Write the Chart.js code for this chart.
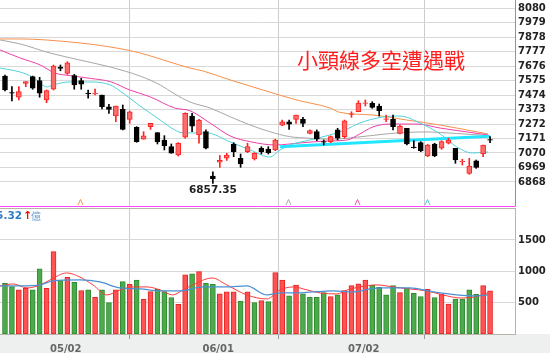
<!DOCTYPE html>
<html lang="zh-Hant">
<head>
<meta charset="UTF-8">
<title>小頸線多空遭遇戰</title>
<script src="https://cdn.jsdelivr.net/npm/chart.js"></script>
<style>
  html, body { margin: 0; padding: 0; background: #fff; }
  #wrap { position: relative; width: 550px; height: 353px; overflow: hidden; }
  #price { position: absolute; left: 0; top: 0; }
  #vol { position: absolute; left: 0; top: 207px; }
</style>
</head>
<body>
<div id="wrap">
  <canvas id="price" width="550" height="207"></canvas>
  <canvas id="vol" width="550" height="146"></canvas>
</div>
<script>
// ---- data ----
const dates = ['05/02', '06/01', '07/02'];
const dateIdx = [7, 29, 50];
const priceTicks = [6868, 6969, 7070, 7171, 7272, 7373, 7474, 7575, 7676, 7777, 7878, 7979, 8080];
const volTicks = [500, 1000, 1500];

const opens = [7607, 7492, 7459, 7556, 7603, 7575, 7440, 7515, 7670, 7626,
  7610, 7575, 7489, 7484, 7475, 7393, 7328, 7375, 7305, 7249,
  7166, 7254, 7212, 7161, 7114, 7056, 7180, 7328, 7196, 7219,
  6909, 7006, 7033, 7133, 7033, 7079, 7028, 7103, 7098, 7091,
  7265, 7288, 7305, 7305, 7207, 7219, 7149, 7149, 7231, 7184,
  7340, 7358, 7416, 7417, 7398, 7305, 7305, 7207, 7242, 7112,
  7142, 7049, 7133, 7103, 7138, 7103, 7007, 6928, 7016, 7063, 7163];
const highs = [7614, 7533, 7533, 7568, 7607, 7598, 7510, 7684, 7684, 7707,
  7619, 7591, 7510, 7517, 7475, 7410, 7398, 7405, 7363, 7254,
  7219, 7277, 7212, 7191, 7133, 7142, 7351, 7347, 7305, 7231,
  6939, 7053, 7068, 7142, 7063, 7138, 7072, 7114, 7114, 7166,
  7300, 7300, 7335, 7319, 7231, 7231, 7161, 7189, 7242, 7300,
  7358, 7435, 7440, 7428, 7412, 7335, 7335, 7265, 7242, 7156,
  7149, 7131, 7138, 7156, 7173, 7103, 7026, 7033, 7021, 7126, 7184];
const lows = [7503, 7433, 7440, 7533, 7515, 7459, 7421, 7510, 7644, 7619,
  7515, 7515, 7452, 7475, 7377, 7347, 7288, 7231, 7277, 7145,
  7166, 7235, 7133, 7091, 7068, 7049, 7173, 7219, 7138, 7098,
  6857.35, 6970, 7018, 7044, 6970, 7072, 7021, 7063, 7063, 7086,
  7261, 7235, 7277, 7254, 7203, 7156, 7126, 7142, 7161, 7173,
  7319, 7358, 7398, 7382, 7328, 7288, 7231, 7203, 7126, 7103,
  7079, 7044, 7044, 7096, 7133, 6998, 6986, 6921, 6963, 7044, 7142];
const closes = [7510, 7487, 7498, 7568, 7522, 7487, 7505, 7677, 7661, 7700,
  7545, 7550, 7484, 7489, 7393, 7375, 7398, 7235, 7358, 7149,
  7189, 7277, 7149, 7121, 7068, 7138, 7347, 7258, 7300, 7103,
  6891, 7018, 7056, 7079, 6993, 7114, 7068, 7079, 7072, 7161,
  7288, 7272, 7335, 7277, 7226, 7166, 7145, 7184, 7173, 7295,
  7344, 7418, 7421, 7389, 7365, 7309, 7254, 7258, 7133, 7108,
  7086, 7126, 7049, 7149, 7161, 7021, 7011, 6979, 6970, 7126, 7159];
const prevClose = 7612;
const volumes = [810, 756, 703, 730, 703, 1038, 730, 1315, 852, 905,
  825, 692, 703, 586, 703, 500, 703, 836, 793, 862,
  554, 676, 714, 676, 580, 474, 942, 958, 995, 810,
  793, 639, 671, 671, 527, 671, 500, 532, 516, 979,
  862, 607, 782, 640, 586, 586, 660, 596, 623, 692,
  772, 799, 862, 782, 745, 623, 772, 660, 730, 650,
  596, 714, 580, 634, 479, 559, 559, 703, 634, 772, 687];

// moving averages (sampled along the curves)
const ma5Idx = [-0.7, 2.2, 4.0, 6.1, 6.9, 9.4, 12.3, 15.2, 16.6, 19.5, 22.4, 24.5, 25.7, 29.1, 32.5,
  35.4, 38.2, 39.7, 41.1, 44.0, 46.9, 49.1, 51.2, 54.5, 57.0, 59.9, 62.8, 65.2, 67.5, 69.7];
const ma5 = [7663, 7635, 7600, 7531, 7545, 7566, 7566, 7545, 7503, 7398, 7300, 7231, 7210, 7210, 7147,
  7091, 7042, 7091, 7126, 7161, 7196, 7231, 7279, 7321, 7328, 7279, 7203, 7112, 7070, 7077];
const ma10Idx = [-0.7, 2.2, 5.1, 7.2, 9.4, 12.3, 15.2, 18.0, 20.9, 24.5, 26.7, 29.6, 32.5, 35.4, 39.0,
  42.6, 46.5, 49.4, 51.2, 53.1, 55.6, 59.5, 62.8, 66.7, 69.7];
const ma10 = [7789, 7733, 7684, 7628, 7610, 7591, 7568, 7510, 7463, 7384, 7365, 7279, 7189, 7149, 7126,
  7140, 7154, 7161, 7203, 7252, 7272, 7272, 7244, 7217, 7196];
const ma20Idx = [-0.7, 2.2, 6.5, 10.8, 15.2, 19.5, 22.4, 24.5, 26.7, 29.6, 32.5, 35.4, 38.2, 41.1, 44.0,
  46.9, 49.8, 55.6, 60.6, 65.2, 69.7];
const ma20 = [7859, 7831, 7768, 7719, 7670, 7607, 7545, 7482, 7426, 7384, 7323, 7265, 7219, 7184, 7173,
  7166, 7175, 7206, 7217, 7206, 7192];
const ma60Idx = [-0.7, 2.2, 9.4, 15.2, 19.5, 23.8, 26.7, 28.6, 32.5, 37.2, 42.1, 46.9, 48.3, 53.1, 58.0,
  62.8, 69.7];
const ma60 = [7866, 7866, 7845, 7810, 7768, 7705, 7663, 7642, 7580, 7510, 7440, 7384, 7354, 7335, 7300,
  7265, 7203];
const neckIdx = [39.7, 70];
const neck = [7114, 7187];
const turnIdx = [11, 41, 51, 61]; // turning marks: ma60, ma20, ma10, ma5

const volMa5Idx = [-0.7, 1.2, 3.2, 5.1, 6.5, 8.9, 10.8, 12.7, 14.7, 16.6, 18.5, 20.5, 22.4, 24.2, 25.7,
  27.1, 29.9, 32.0, 34.9, 37.8, 39.7, 41.6, 43.6, 45.5, 47.9, 49.4, 51.2, 53.7, 56.0, 58.4, 60.9, 63.2,
  65.7, 67.8, 69.7];
const volMa5 = [767, 799, 735, 783, 862, 974, 910, 783, 623, 703, 751, 751, 703, 623, 703,
  783, 894, 783, 623, 559, 703, 751, 703, 655, 639, 703, 751, 783, 751, 719, 687, 623,
  575, 591, 655];
const volMa20Idx = [-0.7, 2.2, 5.1, 6.9, 10.8, 13.7, 16.6, 19.5, 22.4, 25.3, 28.6, 32.0, 34.9, 37.8,
  39.7, 42.1, 44.4, 47.3, 50.2, 52.7, 54.1, 58.4, 61.8, 65.2, 67.8, 69.7];
const volMa20 = [767, 767, 783, 846, 862, 830, 735, 719, 687, 687, 751, 751, 767, 623,
  655, 655, 671, 687, 671, 719, 735, 735, 671, 623, 607, 623];

const title = '小頸線多空遭遇戰';
const volTotal = '5.32';

// ---- helpers ----
const xMin = -0.72, xMax = 73.6;
const idx = opens.map((_, i) => i);
const up = idx.map(i => closes[i] >= opens[i]);
const volUp = idx.map(i => closes[i] >= (i ? closes[i - 1] : prevClose));
const pts = (xs, ys) => xs.map((x, i) => ({ x: x, y: ys[i] }));
const axisFont = { family: 'DejaVu Sans', size: 10, weight: 'bold' };

function fixY(s, w) {
  s.width = w;
  s.paddingTop = 0;
  s.paddingBottom = 0;
}

function lineSet(data, color, width, order) {
  return {
    type: 'line', data: data, borderColor: color, borderWidth: width,
    pointRadius: 0, cubicInterpolationMode: 'monotone', fill: false, order: order
  };
}

// ---- price chart decorations ----
const priceDeco = {
  id: 'priceDeco',
  afterDraw(chart) {
    const { ctx, chartArea: a, scales: { x, y } } = chart;
    ctx.save();
    // magenta frame
    ctx.strokeStyle = '#ff44ff';
    ctx.lineWidth = 1;
    ctx.beginPath();
    ctx.moveTo(0, 206.5);
    ctx.lineTo(a.right + 0.5, 206.5);
    ctx.lineTo(a.right + 0.5, 0);
    ctx.stroke();

    // turning marks
    const markColors = ['#f7934c', '#a8a8a8', '#ee55aa', '#55ccdd'];
    turnIdx.forEach((t, k) => {
      const px = Math.round(x.getPixelForValue(t)) - 0.5;
      ctx.strokeStyle = markColors[k];
      ctx.beginPath();
      ctx.moveTo(px - 2.5, 205);
      ctx.lineTo(px, 199.5);
      ctx.lineTo(px + 2.5, 205);
      ctx.stroke();
    });

    // lowest point label
    let lo = 0;
    lows.forEach((v, i) => { if (v < lows[lo]) lo = i; });
    ctx.fillStyle = '#222';
    ctx.font = 'bold 10.5px "DejaVu Sans"';
    ctx.textAlign = 'center';
    ctx.textBaseline = 'top';
    ctx.fillText(lows[lo].toFixed(2), x.getPixelForValue(lo), y.getPixelForValue(lows[lo]) + 2);

    // title
    ctx.fillStyle = '#ff2020';
    ctx.font = '21px "Noto Sans CJK TC"';
    ctx.textBaseline = 'middle';
    ctx.fillText(title, 381, 60);
    ctx.restore();
  }
};

new Chart(document.getElementById('price'), {
  type: 'bar',
  data: {
    datasets: [
      {
        data: idx.map(i => ({ x: i, y: [opens[i], closes[i]] })),
        backgroundColor: up.map(u => u ? '#ff6b6b' : '#000'),
        borderColor: up.map(u => u ? '#f22' : '#000'),
        borderWidth: 1, borderSkipped: false, barThickness: 5, order: 0
      },
      {
        data: idx.map(i => ({ x: i, y: [lows[i], highs[i]] })),
        backgroundColor: up.map(u => u ? '#f22' : '#000'),
        borderWidth: 0, barThickness: 1, order: 1
      },
      lineSet(pts(ma5Idx, ma5), '#4fd2dc', 1, 2),
      lineSet(pts(ma10Idx, ma10), '#ee3fa6', 1, 3),
      lineSet(pts(ma20Idx, ma20), '#a6a6a6', 1, 4),
      lineSet(pts(ma60Idx, ma60), '#f7904a', 1, 5),
      { type: 'line', data: pts(neckIdx, neck), borderColor: '#22e6ff', borderWidth: 3,
        pointRadius: 0, fill: false, order: 1.5 }
    ]
  },
  options: {
    responsive: false,
    animation: false,
    layout: { padding: 0 },
    datasets: { bar: { grouped: false } },
    plugins: { legend: { display: false }, tooltip: { enabled: false } },
    scales: {
      x: {
        type: 'linear', min: xMin, max: xMax, offset: false,
        afterBuildTicks: s => { s.ticks = dateIdx.map(v => ({ value: v })); },
        ticks: { display: false },
        grid: { color: '#cccccc', drawTicks: false },
        border: { display: false },
        afterFit: s => { s.height = 0; s.paddingLeft = 0; s.paddingRight = 0; }
      },
      y: {
        position: 'right', min: 6693, max: 8138,
        afterBuildTicks: s => { s.ticks = priceTicks.map(v => ({ value: v })); },
        ticks: { font: axisFont, color: '#222', padding: 3, callback: v => String(v) },
        grid: { color: '#d8d8d8', drawTicks: false },
        border: { display: false },
        afterFit: s => fixY(s, 35)
      }
    }
  },
  plugins: [priceDeco]
});

// ---- volume chart ----
const volDeco = {
  id: 'volDeco',
  beforeDraw(chart) {
    const { ctx, chartArea: a, width, height } = chart;
    ctx.save();
    ctx.fillStyle = '#eef0f0';
    ctx.fillRect(0, a.bottom, width, height - a.bottom);
    ctx.restore();
  },
  afterDraw(chart) {
    const { ctx, chartArea: a } = chart;
    ctx.save();
    ctx.strokeStyle = '#b8b3ab';
    ctx.lineWidth = 1;
    ctx.strokeRect(-1, a.top + 0.5, a.right + 1.5, a.bottom - a.top);
    // total turnover
    ctx.textBaseline = 'middle';
    ctx.textAlign = 'right';
    ctx.font = 'bold 10.5px "DejaVu Sans"';
    ctx.fillStyle = '#2d7cc4';
    ctx.fillText(volTotal, 22, 9);
    ctx.textAlign = 'left';
    ctx.fillStyle = '#f00';
    ctx.font = 'bold 11px "DejaVu Sans"';
    ctx.fillText('↑', 23, 9);
    ctx.fillStyle = '#6d9fd0';
    ctx.font = '10px "Noto Sans CJK TC"';
    ctx.fillText('億', 31, 9);
    ctx.restore();
  }
};

new Chart(document.getElementById('vol'), {
  type: 'bar',
  data: {
    datasets: [
      {
        data: idx.map(i => ({ x: i, y: volumes[i] })),
        backgroundColor: volUp.map(u => u ? '#ff5252' : '#4caa4c'),
        borderColor: volUp.map(u => u ? '#e82424' : '#2f8a2f'),
        borderWidth: 1, borderSkipped: false, barThickness: 5, order: 2
      },
      lineSet(pts(volMa5Idx, volMa5), '#ff3a3a', 1, 1),
      lineSet(pts(volMa20Idx, volMa20), '#4a90d4', 1.3, 0)
    ]
  },
  options: {
    responsive: false,
    animation: false,
    layout: { padding: { top: 1 } },
    plugins: { legend: { display: false }, tooltip: { enabled: false } },
    scales: {
      x: {
        type: 'linear', min: xMin, max: xMax, offset: false,
        afterBuildTicks: s => { s.ticks = dateIdx.map(v => ({ value: v })); },
        ticks: {
          font: axisFont, color: '#666', padding: 4, align: 'start', labelOffset: -3.5,
          maxRotation: 0, autoSkip: false,
          callback: v => dates[dateIdx.indexOf(v)]
        },
        grid: { color: '#cccccc', drawTicks: true, tickLength: 5, tickColor: '#999' },
        border: { display: false },
        afterFit: s => { s.height = 19; s.paddingLeft = 0; s.paddingRight = 0; }
      },
      y: {
        position: 'right', min: 0, max: 2010,
        afterBuildTicks: s => { s.ticks = volTicks.map(v => ({ value: v })); },
        ticks: { font: axisFont, color: '#222', padding: 3, callback: v => String(v) },
        grid: { color: '#d8d8d8', drawTicks: false },
        border: { display: false },
        afterFit: s => fixY(s, 35)
      }
    }
  },
  plugins: [volDeco]
});
</script>
</body>
</html>
